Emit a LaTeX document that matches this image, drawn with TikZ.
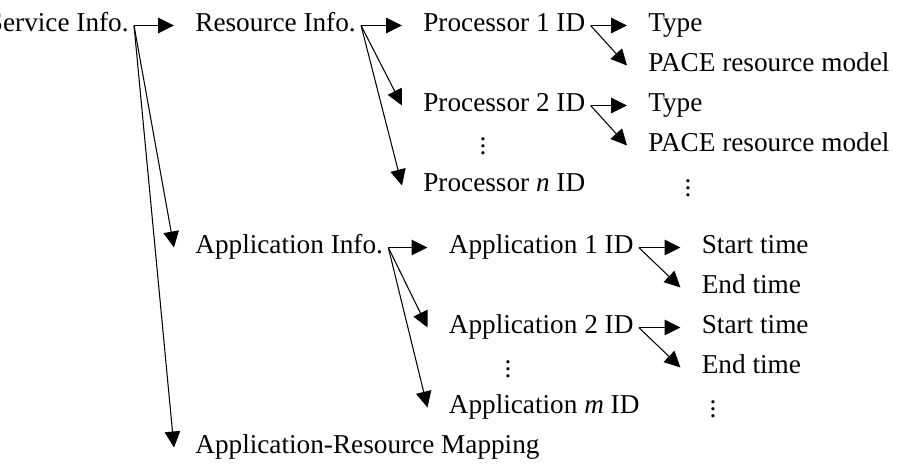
\documentclass[tikz,border=0pt]{standalone}
\usepackage{fontspec}
\setmainfont{Liberation Serif}
\usepackage{tikz}
\usetikzlibrary{arrows.meta}

\begin{document}
\begin{tikzpicture}[
                font=\fontsize{15.5}{18}\selectfont,
                item/.style={anchor=west, inner sep=0pt, text height=0.24cm, text depth=0pt},
                more/.style={anchor=base, inner sep=0pt},
                arr/.style={line width=0.6pt, -{Triangle[length=0.32cm, width=0.31cm]}},
            ]
            \useasboundingbox (0,0) rectangle (18,-9.3);
            % --- first level ---
            \node[item, anchor=east] (svc) at (2.58, -0.51) {Service Info.};
            \node[item] (res) at (3.9, -0.51) {Resource Info.};
            \node[item] (appinfo) at (3.9, -4.95) {Application Info.};
            \node[item] (map) at (3.9, -8.95) {Application-Resource Mapping};
            % --- processors ---
            \node[item] (proc1) at (8.46, -0.51) {Processor 1 ID};
            \node[item] (proc2) at (8.46, -2.11) {Processor 2 ID};
            \node[more] (pdots) at (9.66, -3.1) {\vdots};
            \node[item] (procn) at (8.46, -3.71) {Processor \textit{n} ID};
            \node[item] (type1) at (12.96, -0.51) {Type};
            \node[item] (pace1) at (12.96, -1.31) {PACE resource model};
            \node[item] (type2) at (12.96, -2.11) {Type};
            \node[item] (pace2) at (12.96, -2.91) {PACE resource model};
            \node[more] (rdots) at (13.76, -3.94) {\vdots};
            % --- applications ---
            \node[item] (app1) at (8.97, -4.95) {Application 1 ID};
            \node[item] (app2) at (8.97, -6.55) {Application 2 ID};
            \node[more] (adots) at (10.16, -7.56) {\vdots};
            \node[item] (appm) at (8.97, -8.15) {Application \textit{m} ID};
            \node[item] (start1) at (14.03, -4.95) {Start time};
            \node[item] (end1) at (14.03, -5.75) {End time};
            \node[item] (start2) at (14.03, -6.55) {Start time};
            \node[item] (end2) at (14.03, -7.35) {End time};
            \node[more] (tdots) at (14.26, -8.36) {\vdots};
            % --- arrows ---
            \foreach \t in {res,appinfo,map} \draw[arr] ([xshift=0.1cm]svc.east) -- ([xshift=-0.42cm]\t.west);
            \foreach \t in {proc1,proc2,procn} \draw[arr] ([xshift=0.1cm]res.east) -- ([xshift=-0.42cm]\t.west);
            \foreach \t in {app1,app2,appm} \draw[arr] ([xshift=0.1cm]appinfo.east) -- ([xshift=-0.42cm]\t.west);
            \foreach \s/\a/\b in {proc1/type1/pace1,proc2/type2/pace2,app1/start1/end1,app2/start2/end2} {
                \draw[arr] ([xshift=0.1cm]\s.east) -- ([xshift=-0.42cm]\a.west);
                \draw[arr] ([xshift=0.1cm]\s.east) -- ([xshift=-0.42cm]\b.west);
            }
        \end{tikzpicture}
\end{document}
